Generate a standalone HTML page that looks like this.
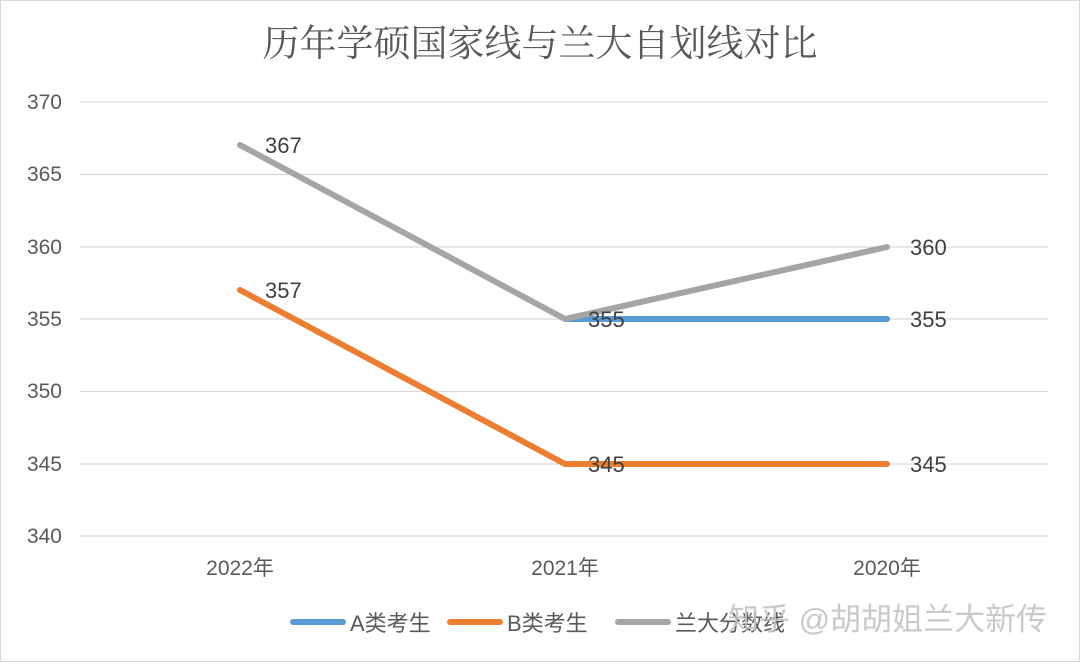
<!DOCTYPE html>
<html><head><meta charset="utf-8"><style>
body{margin:0;background:#fff}
svg text{font-family:"Liberation Sans","Noto Sans CJK SC",sans-serif}
</style></head><body>
<svg width="1080" height="662" xmlns="http://www.w3.org/2000/svg">
<rect x="0.5" y="0.5" width="1079" height="661" fill="#fff" stroke="#d9d9d9"/>
<text x="540" y="56" text-anchor="middle" font-size="37" fill="#595959" style="font-family:'Noto Serif CJK SC','Noto Sans CJK SC',serif">历年学硕国家线与兰大自划线对比</text>
<g stroke="#d9d9d9" stroke-width="1.3">
<line x1="80" x2="1048" y1="102" y2="102"/><line x1="80" x2="1048" y1="174.5" y2="174.5"/>
<line x1="80" x2="1048" y1="247" y2="247"/><line x1="80" x2="1048" y1="319" y2="319"/>
<line x1="80" x2="1048" y1="391.5" y2="391.5"/><line x1="80" x2="1048" y1="464" y2="464"/>
<line x1="80" x2="1048" y1="536" y2="536"/>
</g>
<g font-size="21" fill="#595959" text-anchor="end">
<text x="62" y="109">370</text><text x="62" y="181">365</text><text x="62" y="254">360</text>
<text x="62" y="326">355</text><text x="62" y="398">350</text><text x="62" y="471">345</text><text x="62" y="543">340</text>
</g>
<g font-size="21" fill="#595959" text-anchor="middle">
<text x="240" y="575">2022年</text><text x="565" y="575">2021年</text><text x="887" y="575">2020年</text>
</g>
<g fill="none" stroke-width="6" stroke-linejoin="round" stroke-linecap="round">
<polyline points="565,319 887,319" stroke="#5b9bd5"/>
<polyline points="240,290 565,464 887,464" stroke="#ed7d31"/>
<polyline points="240,145 565,319 887,247" stroke="#a5a5a5"/>
</g>
<g font-size="22" fill="#404040">
<text x="265" y="153">367</text><text x="265" y="298">357</text>
<text x="588" y="327">355</text><text x="588" y="472">345</text>
<text x="910" y="255">360</text><text x="910" y="327">355</text><text x="910" y="472">345</text>
</g>
<g stroke-width="6" stroke-linecap="round">
<line x1="293" x2="343" y1="622" y2="622" stroke="#5b9bd5"/>
<line x1="450" x2="500" y1="622" y2="622" stroke="#ed7d31"/>
<line x1="618" x2="668" y1="622" y2="622" stroke="#a5a5a5"/>
</g>
<g font-size="22" fill="#595959">
<text x="350" y="631">A类考生</text><text x="507" y="631">B类考生</text><text x="675" y="631">兰大分数线</text>
</g>
<text x="728" y="630" font-size="31" fill="#c0c0c0" opacity="0.85">知乎 @胡胡姐兰大新传</text>
</svg>
</body></html>
